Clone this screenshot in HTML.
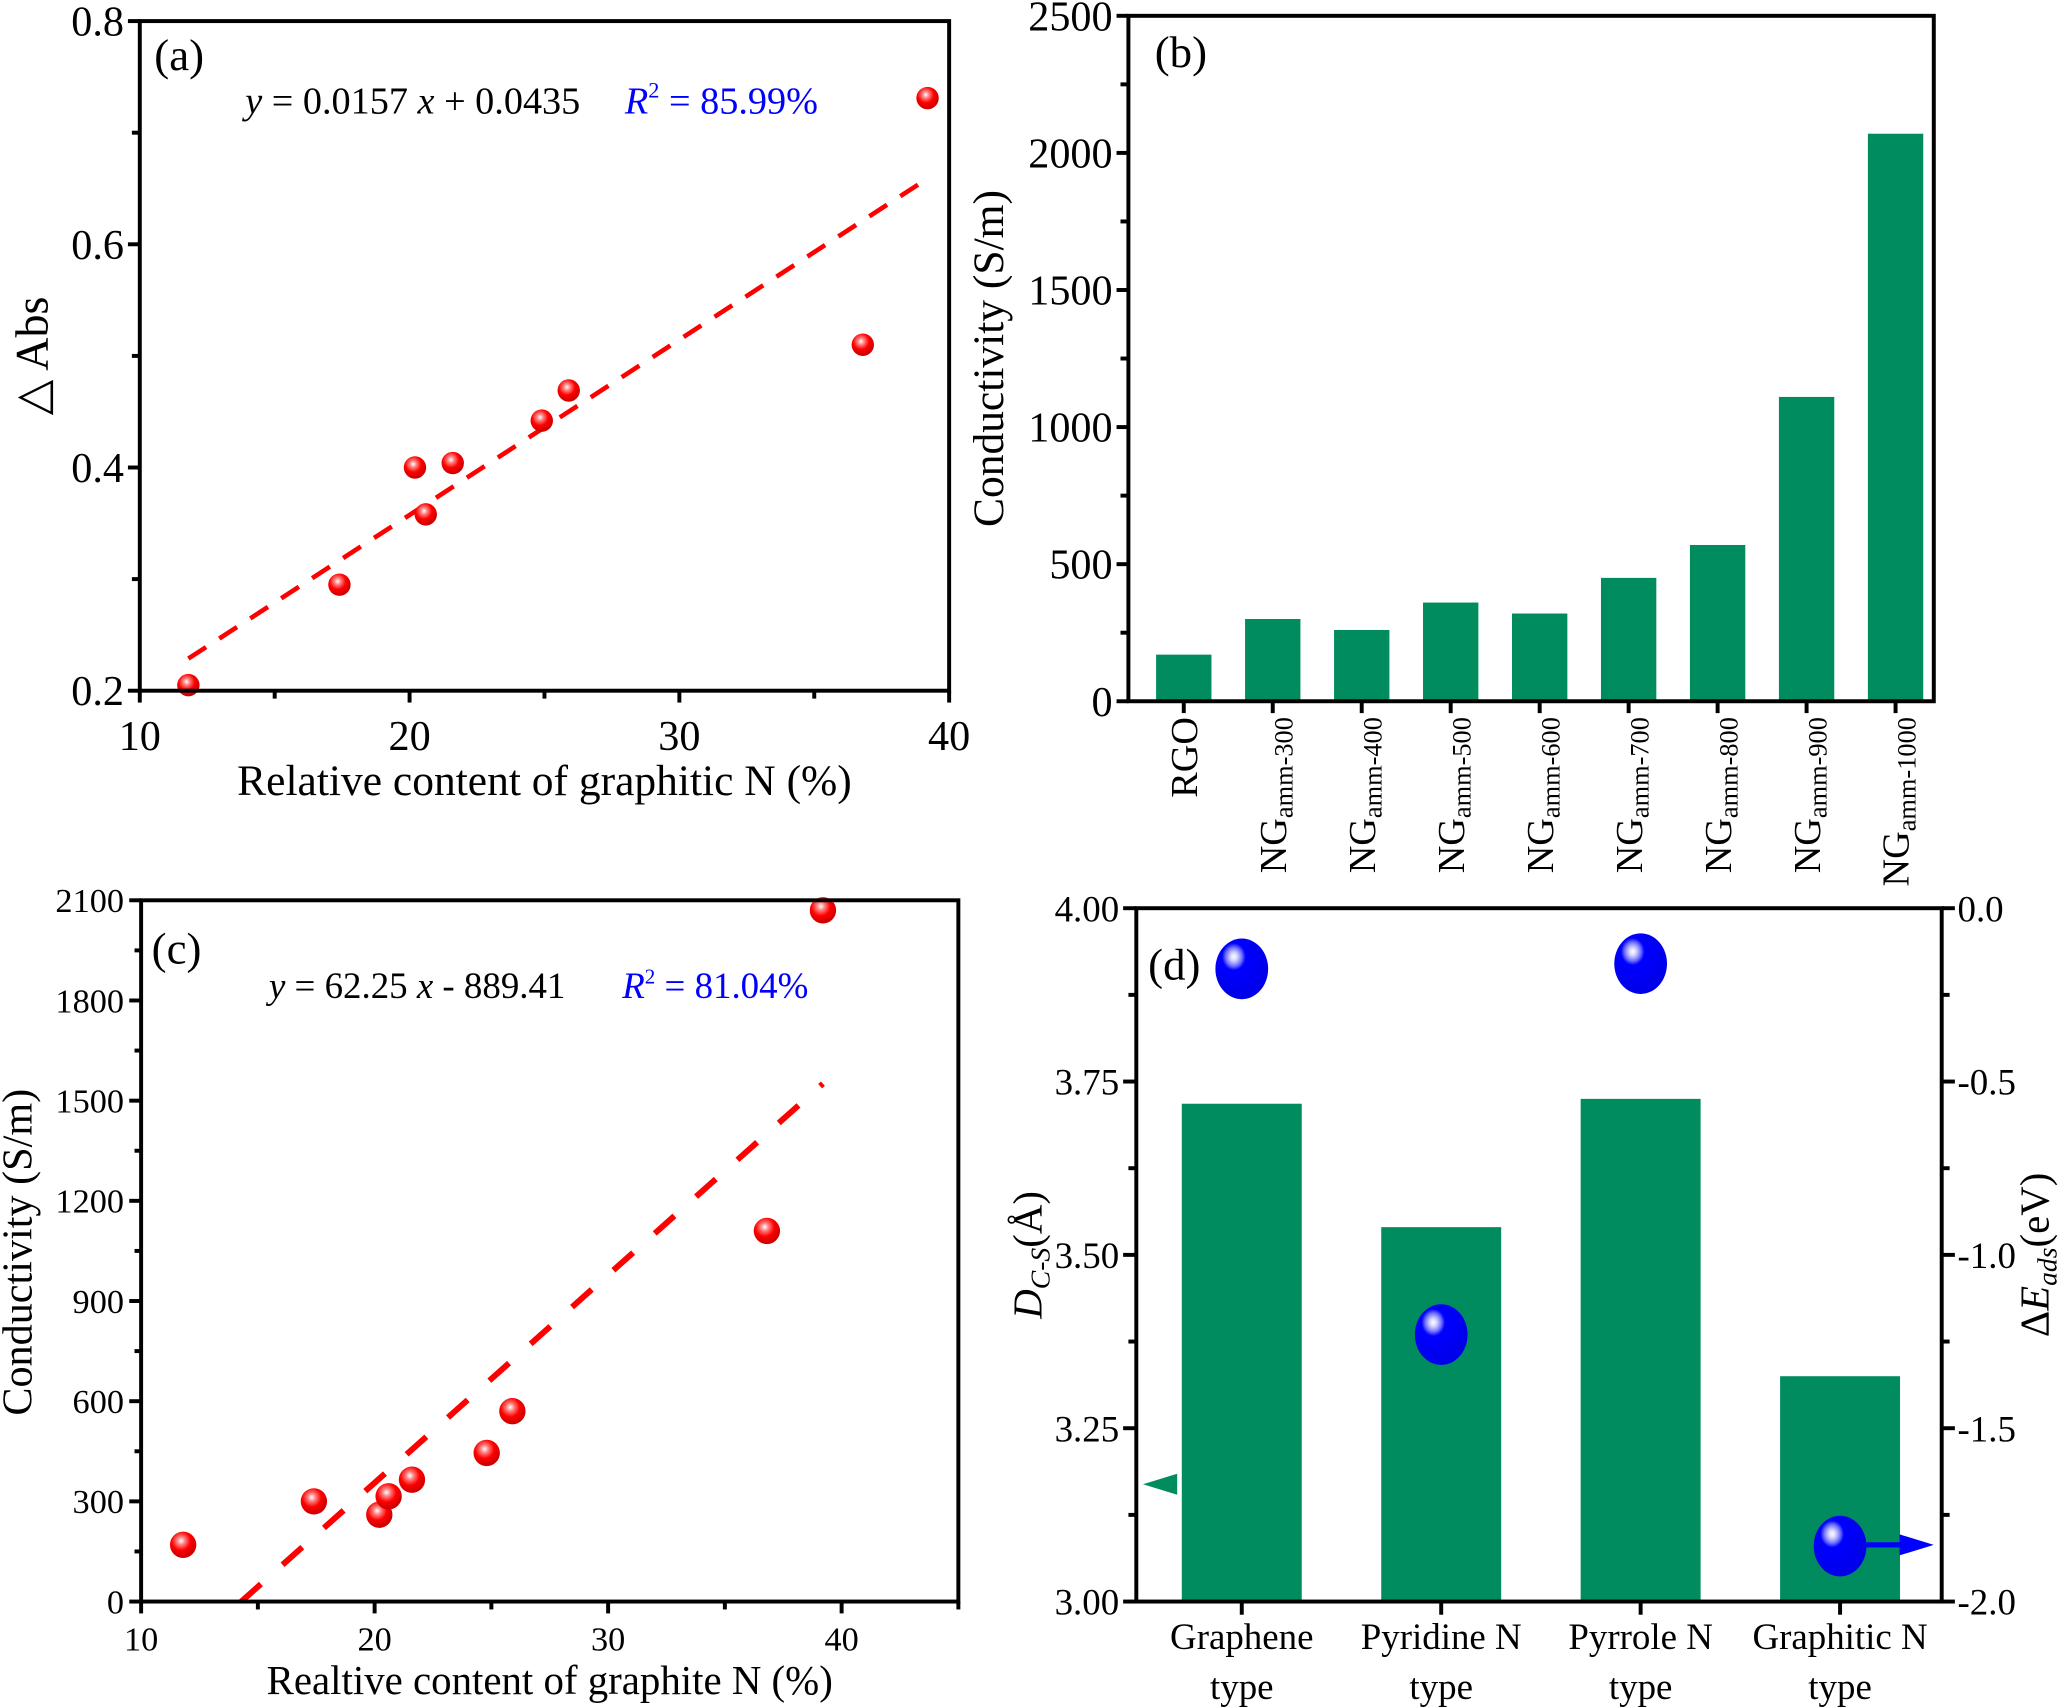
<!DOCTYPE html>
<html><head><meta charset="utf-8">
<style>
html,body{margin:0;padding:0;background:#fff;}
svg{display:block;}
svg text{font-family:"Liberation Serif","DejaVu Serif",serif;fill:#000;}
</style></head>
<body>
<svg id="fig" xmlns="http://www.w3.org/2000/svg" width="2067" height="1707" viewBox="0 0 1568 1295" font-family="Liberation Serif, DejaVu Serif, serif">
<defs>
<radialGradient id="redball" cx="0.42" cy="0.35" r="0.6">
<stop offset="0" stop-color="#ffffff"/><stop offset="0.25" stop-color="#ff8080"/><stop offset="0.6" stop-color="#ff0000"/><stop offset="1" stop-color="#d00000"/>
</radialGradient>
<radialGradient id="blueball" cx="0.35" cy="0.3" r="0.7">
<stop offset="0" stop-color="#ffffff"/><stop offset="0.1" stop-color="#d0d0ff"/><stop offset="0.22" stop-color="#7070ff"/><stop offset="0.32" stop-color="#0000ff"/><stop offset="1" stop-color="#0000e8"/>
</radialGradient>
</defs>
</svg>
<script>
// ---- Panel (a) data ----
const aX = [11.8, 17.4, 20.2, 20.6, 21.6, 24.9, 25.9, 36.8, 39.2];
const aY = [0.205, 0.295, 0.400, 0.358, 0.404, 0.442, 0.469, 0.510, 0.731];
const aSlope = 0.0157, aInt = 0.0435;
const aXTicks = [10, 20, 30, 40];
const aYTicks = [0.2, 0.4, 0.6, 0.8];
// ---- Panel (b) data ----
const bCats = ["RGO","300","400","500","600","700","800","900","1000"];
const bVals = [170, 300, 260, 360, 320, 450, 570, 1110, 2070];
const bYTicks = [0, 500, 1000, 1500, 2000, 2500];
// ---- Panel (c) data ----
const cX = [11.8, 17.4, 20.2, 20.6, 21.6, 24.8, 25.9, 36.8, 39.2];
const cY = [170, 300, 260, 315, 365, 445, 570, 1110, 2070];
const cSlope = 62.25, cInt = -889.41;
const cXTicks = [10, 20, 30, 40];
const cYTicks = [0, 300, 600, 900, 1200, 1500, 1800, 2100];
// ---- Panel (d) data ----
const dCats = [["Graphene","type"],["Pyridine N","type"],["Pyrrole N","type"],["Graphitic N","type"]];
const dDist = [3.718, 3.540, 3.725, 3.325];
const dEads = [-0.175, -1.230, -0.160, -1.840];
const dLeftTicks = ["3.00","3.25","3.50","3.75","4.00"];
const dRightTicks = ["-2.0","-1.5","-1.0","-0.5","0.0"];

const NS="http://www.w3.org/2000/svg";
const svg=document.getElementById('fig');
function el(tag, attrs, parent){const e=document.createElementNS(NS,tag);for(const k in attrs)e.setAttribute(k,attrs[k]);(parent||svg).appendChild(e);return e;}
function txt(x,y,s,size,anchor,parent,extra){const t=el('text',Object.assign({x:x,y:y,'font-size':size,'text-anchor':anchor||'middle'},extra||{}),parent);t.textContent=s;return t;}
function lin(d0,d1,r0,r1){return v=>r0+(v-d0)/(d1-d0)*(r1-r0);}

// ===== Panel (a) =====
(function(){
const g=el('g',{});


const L=106,R=720,T=16,B=524;
const sx=lin(10,40,L,R), sy=lin(0.2,0.8,B,T);
const fit=el('line',{x1:sx(11.8),y1:sy(aSlope*11.8+aInt),x2:sx(39.2),y2:sy(aSlope*39.2+aInt),stroke:'#ff0000','stroke-width':3.5,'stroke-dasharray':'16,12'},g);


aX.forEach((x,i)=>{const c=el('circle',{cx:sx(x),cy:sy(aY[i]),r:8.5,fill:'url(#redball)'},g);

});
const fr=el('rect',{x:L,y:T,width:R-L,height:B-T,fill:'none',stroke:'#000','stroke-width':3},g);


for(let v=10;v<=40;v+=5){el('line',{x1:sx(v),y1:B,x2:sx(v),y2:B+(v%10===0?9:6),stroke:'#000','stroke-width':3},g);}
aXTicks.forEach(v=>{const t=txt(sx(v),B+45,String(v),32,'middle',g);});
for(let v=0.2;v<=0.801;v+=0.1){el('line',{x1:L,y1:sy(v),x2:L-(Math.round(v*10)%2===0?9:6),y2:sy(v),stroke:'#000','stroke-width':3},g);}
aYTicks.forEach(v=>{const t=txt(L-12,sy(v)+11,v.toFixed(1),32,'end',g);});
let t=txt(413,603,'Relative content of graphitic N (%)',33,'middle',g);
t=txt(0,0,'\u25B3 Abs',35,'middle',g,{transform:'translate(36,270) rotate(-90)'});
t=txt(117,53,'(a)',34,'start',g);
t=el('text',{x:186,y:86,'font-size':29},g);t.innerHTML='<tspan font-style="italic">y</tspan> = 0.0157 <tspan font-style="italic">x</tspan> + 0.0435';

t=el('text',{x:474,y:86,'font-size':29,fill:'#0000ff'},g);t.innerHTML='<tspan font-style="italic" fill="#0000ff">R</tspan><tspan fill="#0000ff" font-size="17" dy="-12">2</tspan><tspan fill="#0000ff" dy="12"> = 85.99%</tspan>';

})();

// ===== Panel (b) =====
(function(){
const g=el('g',{});


const L=856,R=1467,T=12,B=532;
const sy=lin(0,2500,B,T);
const cx=i=>L+42+i*67.5;
bCats.forEach((c,i)=>{
 const r=el('rect',{x:cx(i)-21,y:sy(bVals[i]),width:42,height:B-sy(bVals[i]),fill:'#008c5e'},g);
 
 
 el('line',{x1:cx(i),y1:B,x2:cx(i),y2:B+9,stroke:'#000','stroke-width':3},g);
 const tx=el('text',{'font-size':29,'text-anchor':'end',transform:'translate('+(cx(i)+10)+','+(B+12)+') rotate(-90)'},g);
 if(c==='RGO'){tx.textContent='RGO';}else{tx.innerHTML='NG<tspan font-size="20" dy="5">amm-'+c+'</tspan>';}
 
 
});
const fr=el('rect',{x:L,y:T,width:R-L,height:B-T,fill:'none',stroke:'#000','stroke-width':3},g);


for(let v=0;v<=2500;v+=250){el('line',{x1:L,y1:sy(v),x2:L-(v%500===0?9:6),y2:sy(v),stroke:'#000','stroke-width':3},g);}
bYTicks.forEach(v=>{const t=txt(L-12,sy(v)+11,String(v),32,'end',g);});
let t=txt(0,0,'Conductivity (S/m)',33,'middle',g,{transform:'translate(761,272) rotate(-90)'});
t=txt(876,51,'(b)',34,'start',g);
})();

// ===== Panel (c) =====
(function(){
const g=el('g',{});


const L=107,R=727,T=683,B=1215;
const sx=lin(10,45,L,R), sy=lin(0,2100,B,T);
const x0=-cInt/cSlope;
const fit=el('line',{x1:sx(x0),y1:sy(0),x2:sx(39.2),y2:sy(cSlope*39.2+cInt),stroke:'#ff0000','stroke-width':4.5,'stroke-dasharray':'20,22'},g);


cX.forEach((x,i)=>{const c=el('circle',{cx:sx(x),cy:sy(cY[i]),r:10,fill:'url(#redball)'},g);

});
const fr=el('rect',{x:L,y:T,width:R-L,height:B-T,fill:'none',stroke:'#000','stroke-width':3},g);


for(let v=10;v<=45;v+=5){el('line',{x1:sx(v),y1:B,x2:sx(v),y2:B+(v%10===0?9:6),stroke:'#000','stroke-width':3},g);}
cXTicks.forEach(v=>{const t=txt(sx(v),B+37,String(v),26,'middle',g);});
for(let v=0;v<=2100;v+=150){el('line',{x1:L,y1:sy(v),x2:L-(v%300===0?9:5),y2:sy(v),stroke:'#000','stroke-width':3},g);}
cYTicks.forEach(v=>{const t=txt(L-13,sy(v)+9,String(v),26,'end',g);});
let t=txt(417,1285,'Realtive content of graphite N  (%)',31,'middle',g);
t=txt(0,0,'Conductivity (S/m)',32,'middle',g,{transform:'translate(24,950) rotate(-90)'});
t=txt(115,731,'(c)',34,'start',g);
t=el('text',{x:204,y:757,'font-size':28},g);t.innerHTML='<tspan font-style="italic">y</tspan> = 62.25 <tspan font-style="italic">x</tspan> - 889.41';

t=el('text',{x:472,y:757,'font-size':28},g);t.innerHTML='<tspan font-style="italic" fill="#0000ff">R</tspan><tspan fill="#0000ff" font-size="16" dy="-11">2</tspan><tspan fill="#0000ff" dy="11"> = 81.04%</tspan>';

})();

// ===== Panel (d) =====
(function(){
const g=el('g',{});


const L=862,R=1473,T=689,B=1215;
const sy=lin(3.0,4.0,B,T), sy2=lin(-2.0,0.0,B,T);
const cx=i=>L+80+i*151.3;
dCats.forEach((c,i)=>{
 const r=el('rect',{x:cx(i)-45.5,y:sy(dDist[i]),width:91,height:B-sy(dDist[i]),fill:'#008c5e'},g);
 
 
 el('line',{x1:cx(i),y1:B,x2:cx(i),y2:B+10,stroke:'#000','stroke-width':3},g);
 let t=txt(cx(i),B+36,c[0],28,'middle',g);
 t=txt(cx(i),B+74,c[1],28,'middle',g);
});
dEads.forEach((v,i)=>{const b=el('ellipse',{cx:cx(i),cy:sy2(v),rx:20,ry:23,fill:'url(#blueball)'},g);
 
 });
const fr=el('rect',{x:L,y:T,width:R-L,height:B-T,fill:'none',stroke:'#000','stroke-width':3},g);


for(let k=0;k<=8;k++){const y=T+(B-T)*k/8;
 el('line',{x1:L,y1:y,x2:L-(k%2===0?10:6),y2:y,stroke:'#000','stroke-width':3},g);
 el('line',{x1:R,y1:y,x2:R+(k%2===0?10:6),y2:y,stroke:'#000','stroke-width':3},g);}
dLeftTicks.forEach(s=>{const t=txt(L-13,sy(parseFloat(s))+10,s,28,'end',g);});
dRightTicks.forEach(s=>{const t=txt(R+12,sy2(parseFloat(s))+10,s,28,'start',g);});
let t=el('text',{'font-size':31,'text-anchor':'middle',transform:'translate(790,952) rotate(-90)'},g);
t.innerHTML='<tspan font-style="italic">D</tspan><tspan font-style="italic" font-size="21" dy="6">C-S</tspan><tspan dy="-6">(Å)</tspan>';

t=el('text',{'font-size':31,'text-anchor':'middle',transform:'translate(1554,952) rotate(-90)'},g);
t.innerHTML='Δ<tspan font-style="italic">E</tspan><tspan font-style="italic" font-size="21" dy="6">ads</tspan><tspan dy="-6">(eV)</tspan>';

t=txt(871,743,'(d)',34,'start',g);
const tri=el('polygon',{points:(L+5)+',1126 '+(L+31)+',1118 '+(L+31)+',1134',fill:'#008c5e'},g);


const al=el('line',{x1:cx(3)+20,y1:1172,x2:R-22,y2:1172,stroke:'#0000ff','stroke-width':4},g);


const ah=el('polygon',{points:(R-6)+',1172 '+(R-32)+',1164 '+(R-32)+',1180',fill:'#0000ff'},g);


})();
</script>
</body></html>
